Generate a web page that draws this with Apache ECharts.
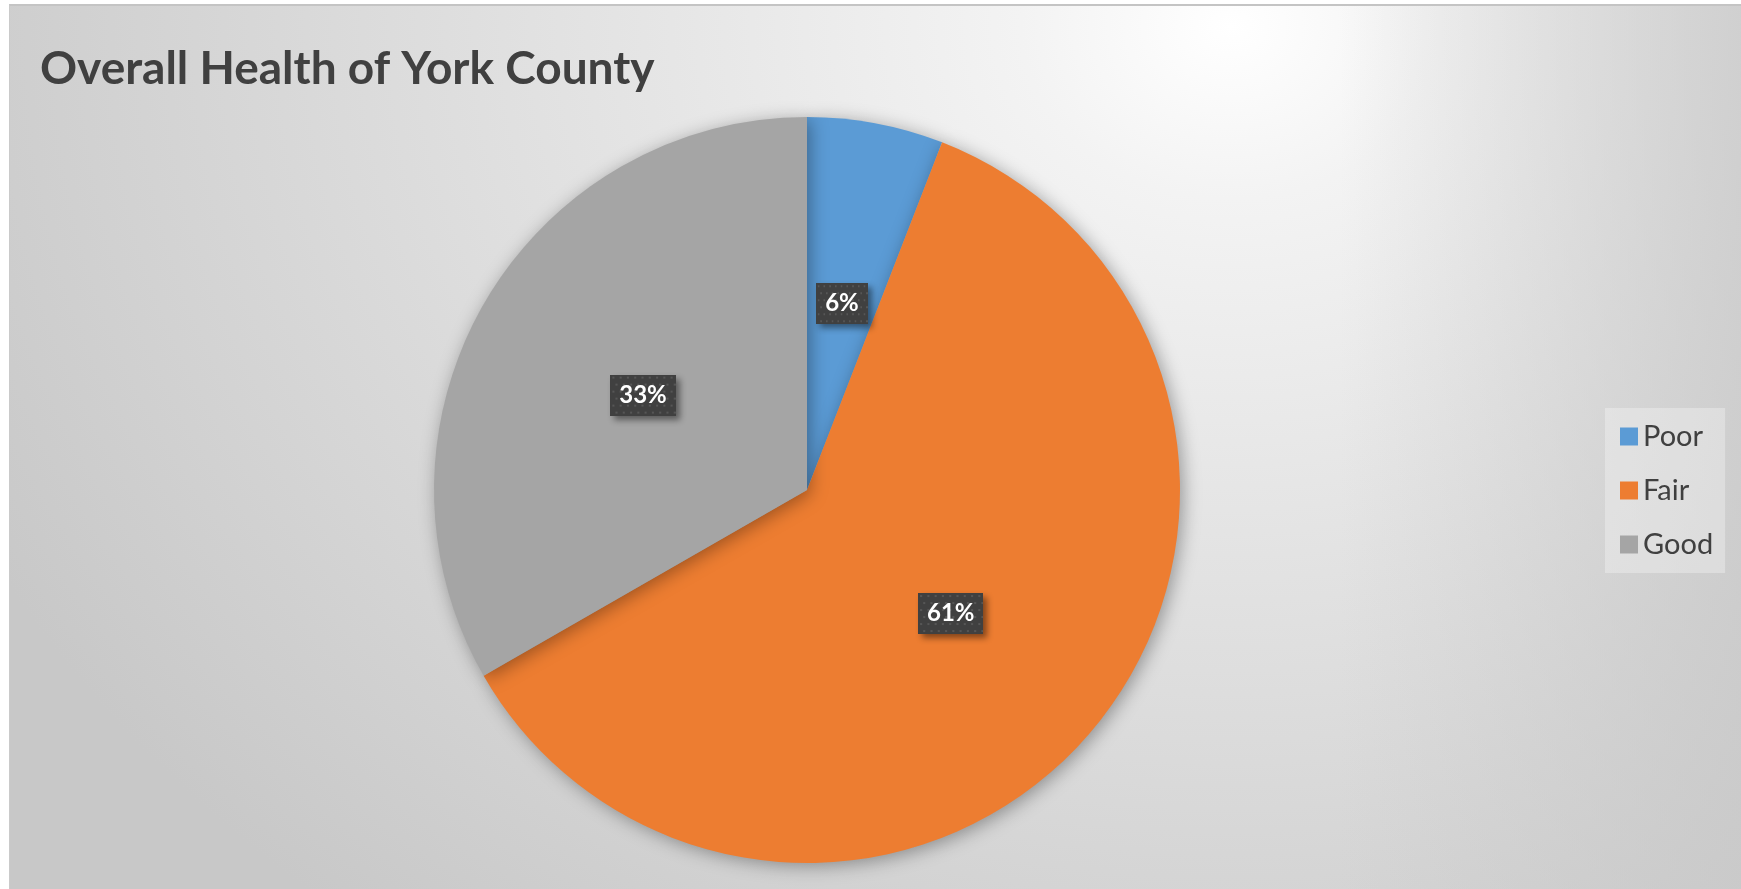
<!DOCTYPE html>
<html>
<head>
<meta charset="utf-8">
<script src="https://cdn.jsdelivr.net/npm/echarts@6/dist/echarts.min.js"></script>
<style>
  html, body { margin: 0; padding: 0; background: #ffffff; }
  #bg {
    position: absolute; left: 9px; top: 4px; width: 1732px; height: 885px;
    box-sizing: border-box;
    border-top: 2px solid #c4c4c4; border-left: 1px solid #cacaca;
    background:
      linear-gradient(to right, rgba(200,200,200,0) 1330px, rgba(200,200,200,0.75) 1732px),
      radial-gradient(ellipse 1400px 1150px at 1221px 20px, #ffffff 0%, #f3f3f3 15%, #e6e6e6 40%, #d7d7d7 70%, #c8c8c8 100%);
  }
  #chart { position: absolute; left: 0; top: 0; width: 1741px; height: 889px; }
</style>
</head>
<body>
<div id="bg"></div>
<div id="chart"></div>
<script>
const titleText = 'Overall Health of York County';
const categories = ['Poor', 'Fair', 'Good'];
const values = [5.9, 60.8, 33.3];
const colors = ['#5B9BD5', '#ED7D31', '#A5A5A5'];

// dotted dark label background
function makePattern(w, h) {
  const c = document.createElement('canvas');
  c.width = w; c.height = h;
  const ctx = c.getContext('2d');
  ctx.fillStyle = '#404040';
  ctx.fillRect(0, 0, w, h);
  ctx.fillStyle = '#565656';
  for (let y = 2, row = 0; y < h; y += 7, row++) {
    for (let x = (row % 2 ? 5 : 1.5); x < w; x += 7) {
      ctx.fillRect(Math.round(x), y, 2, 2);
    }
  }
  return c;
}
const pattern = makePattern(63, 41);

const chart = echarts.init(document.getElementById('chart'));
chart.setOption({
  backgroundColor: 'transparent',
  animation: false,
  title: {
    text: titleText,
    left: 40,
    top: 46,
    padding: 0,
    textStyle: { fontFamily: 'Lato', fontWeight: 'bold', fontSize: 46, color: '#404040' }
  },
  legend: {
    orient: 'vertical',
    left: 1605,
    top: 408,
    padding: [14, 12, 14, 15],
    backgroundColor: 'rgba(255,255,255,0.3)',
    icon: 'rect',
    itemWidth: 18,
    itemHeight: 18,
    itemGap: 25,
    data: categories,
    textStyle: { fontFamily: 'Lato', fontSize: 29, color: '#404040' }
  },
  series: [{
    type: 'pie',
    center: [807, 490],
    radius: 373,
    startAngle: 90,
    clockwise: true,
    percentPrecision: 0,
    data: categories.map((c, i) => ({ name: c, value: values[i], itemStyle: { color: colors[i] } })),
    itemStyle: {
      shadowBlur: 18,
      shadowOffsetX: 3,
      shadowOffsetY: 3,
      shadowColor: 'rgba(0,0,0,0.35)'
    },
    label: {
      show: true,
      position: 'inside',
      formatter: '{d}%',
      fontFamily: 'Lato',
      fontWeight: 'bold',
      fontSize: 24,
      color: '#ffffff',
      backgroundColor: { image: pattern },
      padding: [9, 9, 8, 9],
      shadowBlur: 6,
      shadowOffsetX: 4,
      shadowOffsetY: 4,
      shadowColor: 'rgba(0,0,0,0.45)'
    },
    labelLine: { show: false },
    emphasis: { disabled: true }
  }]
});
</script>
</body>
</html>
